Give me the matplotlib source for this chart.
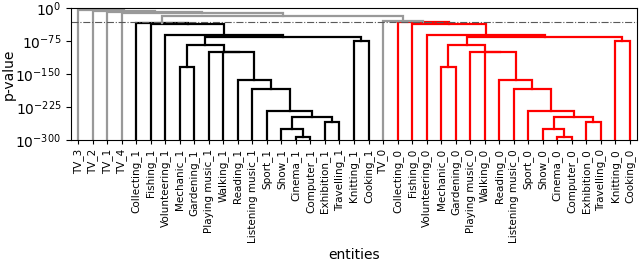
import numpy as np
import matplotlib
matplotlib.use("Agg")
import matplotlib.pyplot as plt

# leaf order as shown on the x axis
leaves = [
    "TV_3", "TV_2", "TV_1", "TV_4",
    "Collecting_1", "Fishing_1", "Volunteering_1", "Mechanic_1", "Gardening_1",
    "Playing music_1", "Walking_1", "Reading_1", "Listening music_1", "Sport_1",
    "Show_1", "Cinema_1", "Computer_1", "Exhibition_1", "Travelling_1",
    "Knitting_1", "Cooking_1",
    "TV_0",
    "Collecting_0", "Fishing_0", "Volunteering_0", "Mechanic_0", "Gardening_0",
    "Playing music_0", "Walking_0", "Reading_0", "Listening music_0", "Sport_0",
    "Show_0", "Cinema_0", "Computer_0", "Exhibition_0", "Travelling_0",
    "Knitting_0", "Cooking_0",
]

# merges: (node, left child, right child, log10 p-value)
merges_1 = [
    ("cc1", "Cinema_1", "Computer_1", -294),
    ("sc1", "Show_1", "cc1", -275),
    ("et1", "Exhibition_1", "Travelling_1", -259),
    ("se1", "sc1", "et1", -247),
    ("sp1", "Sport_1", "se1", -233),
    ("li1", "Listening music_1", "sp1", -184.5),
    ("re1", "Reading_1", "li1", -164),
    ("mg1", "Mechanic_1", "Gardening_1", -134),
    ("wa1", "Walking_1", "re1", -101),
    ("pm1", "Playing music_1", "wa1", -100),
    ("d1", "mg1", "pm1", -83.5),
    ("kc1", "Knitting_1", "Cooking_1", -74.5),
    ("f1", "d1", "kc1", -67),
    ("g1", "Volunteering_1", "f1", -61.5),
    ("i1", "Fishing_1", "g1", -35.5),
    ("j1", "Collecting_1", "i1", -33),
]
merges_0 = [
    ("cc0", "Cinema_0", "Computer_0", -294),
    ("sc0", "Show_0", "cc0", -275),
    ("et0", "Exhibition_0", "Travelling_0", -259),
    ("se0", "sc0", "et0", -247),
    ("sp0", "Sport_0", "se0", -233),
    ("li0", "Listening music_0", "sp0", -184.5),
    ("re0", "Reading_0", "li0", -164),
    ("mg0", "Mechanic_0", "Gardening_0", -134),
    ("wa0", "Walking_0", "re0", -101),
    ("pm0", "Playing music_0", "wa0", -100),
    ("d0", "mg0", "pm0", -83.5),
    ("kc0", "Knitting_0", "Cooking_0", -74.5),
    ("f0", "d0", "kc0", -67),
    ("g0", "Volunteering_0", "f0", -61.5),
    ("i0", "Fishing_0", "g0", -35.5),
    ("j0", "Collecting_0", "i0", -32.5),
]
merges_top = [
    ("k", "TV_0", "j0", -30),
    ("l", "j1", "k", -17.5),
    ("m", "TV_4", "l", -11.5),
    ("n", "TV_1", "m", -9),
    ("o", "TV_2", "n", -7),
    ("p", "TV_3", "o", -4),
]
threshold = -31.5  # log10 of the cut line

pos = {name: 5 + 10 * i for i, name in enumerate(leaves)}
height = {name: -310 for name in leaves}

fig, ax = plt.subplots(figsize=(6.4, 2.61), dpi=100)
fig.subplots_adjust(left=71 / 640, right=637 / 640, top=1 - 8 / 261, bottom=1 - 140 / 261)

for group, color in [(merges_1, "black"), (merges_0, "red"), (merges_top, "#999999")]:
    for node, a, b, h in group:
        xa, xb = pos[a], pos[b]
        ya, yb = height[a], height[b]
        c = color if h < threshold else "#999999"
        ax.plot([xa, xa, xb, xb], [10.0 ** ya, 10.0 ** h, 10.0 ** h, 10.0 ** yb],
                color=c, lw=1.6, solid_joinstyle="miter")
        pos[node] = (xa + xb) / 2
        height[node] = h

ax.axhline(10.0 ** threshold, color="0.35", ls="-.", lw=0.8)

ax.set_yscale("log")
ax.set_ylim(1e-300, 1)
ax.set_xlim(0, 10 * len(leaves))
ax.set_yticks([1e-300, 1e-225, 1e-150, 1e-75, 1])
ax.minorticks_off()
ax.tick_params(axis="y", labelsize=10)
ax.set_xticks([5 + 10 * i for i in range(len(leaves))])
ax.set_xticklabels(leaves, rotation=90, fontsize=7.5)
ax.tick_params(axis="x", length=3)
ax.set_ylabel("p-value", fontsize=10)
ax.yaxis.set_label_coords(-0.098, 0.5)
ax.set_xlabel("entities", fontsize=10)

fig.savefig("out.png", dpi=100)
